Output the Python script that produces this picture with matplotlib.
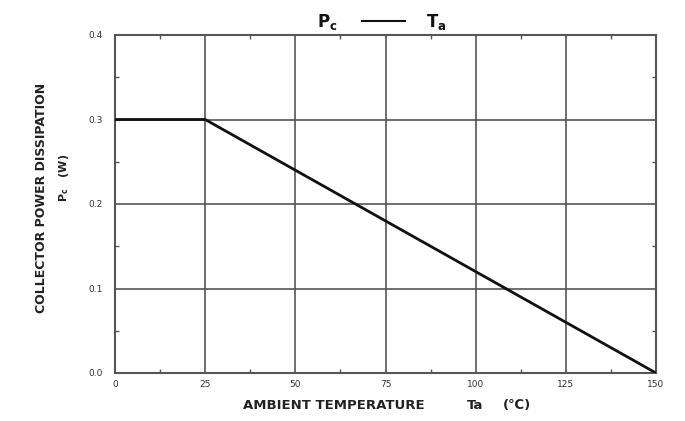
import matplotlib.pyplot as plt
from matplotlib.lines import Line2D
from matplotlib.ticker import MultipleLocator

# derating curve: Pc vs Ta
temp_c = [0, 25, 150]
power_w = [0.3, 0.3, 0.0]

x_ticks = [0, 25, 50, 75, 100, 125, 150]
y_ticks = [0.0, 0.1, 0.2, 0.3, 0.4]
y_tick_labels = ["0.0", "0.1", "0.2", "0.3", "0.4"]

GRID = "#555555"
TXT = "#222222"
W, H = 685, 421


def fx(px):
    return px / W


def fy(py):
    return 1 - py / H


def main():
    fig = plt.figure(figsize=(W / 100, H / 100), dpi=100)
    ax = fig.add_axes([fx(115), fy(373), fx(656) - fx(115), fy(35) - fy(373)])

    ax.plot(temp_c, power_w, color="#111111", lw=2.0, zorder=3)

    ax.set_xlim(0, 150)
    ax.set_ylim(0, 0.4)
    ax.set_xticks(x_ticks)
    ax.set_xticklabels([str(t) for t in x_ticks])
    ax.set_yticks(y_ticks)
    ax.set_yticklabels(y_tick_labels)
    ax.xaxis.set_minor_locator(MultipleLocator(12.5))
    ax.yaxis.set_minor_locator(MultipleLocator(0.05))

    ax.grid(True, which="major", color=GRID, lw=1.2)
    for sp in ax.spines.values():
        sp.set_color(GRID)
        sp.set_linewidth(1.5)

    ax.tick_params(which="both", direction="in", top=True, right=True,
                   colors=GRID, labelcolor="#333333", labelsize=6.5)
    ax.tick_params(which="major", length=0)
    ax.tick_params(which="minor", length=3, width=1)
    ax.tick_params(axis="y", pad=9)
    ax.tick_params(axis="x", pad=5)

    # x label, spread out like the datasheet
    xl_y = fy(409)
    for px, s in [(243, "AMBIENT TEMPERATURE"), (467, "Ta"), (503, "(\u2103)")]:
        fig.text(fx(px), xl_y, s, fontsize=9.5, fontweight="bold",
                 color=TXT, ha="left", va="baseline")

    # y label
    fig.text(fx(42), fy(198), "COLLECTOR POWER DISSIPATION", rotation=90,
             fontsize=9, fontweight="bold", color=TXT,
             ha="center", va="center")
    fig.text(fx(64), fy(178), r"$\mathbf{P_c}$   (W)", rotation=90,
             fontsize=8, fontweight="bold", color=TXT,
             ha="center", va="center")

    # title: Pc ---- Ta
    fig.text(fx(317), fy(27), r"$\mathbf{P_c}$", fontsize=12,
             color="#111111", ha="left", va="baseline")
    fig.text(fx(426), fy(27), r"$\mathbf{T_a}$", fontsize=12,
             color="#111111", ha="left", va="baseline")
    fig.add_artist(Line2D([fx(362), fx(405)], [fy(21), fy(21)],
                          color="#111111", lw=1.5))

    fig.savefig("out.png", dpi=100)


if __name__ == "__main__":
    main()
